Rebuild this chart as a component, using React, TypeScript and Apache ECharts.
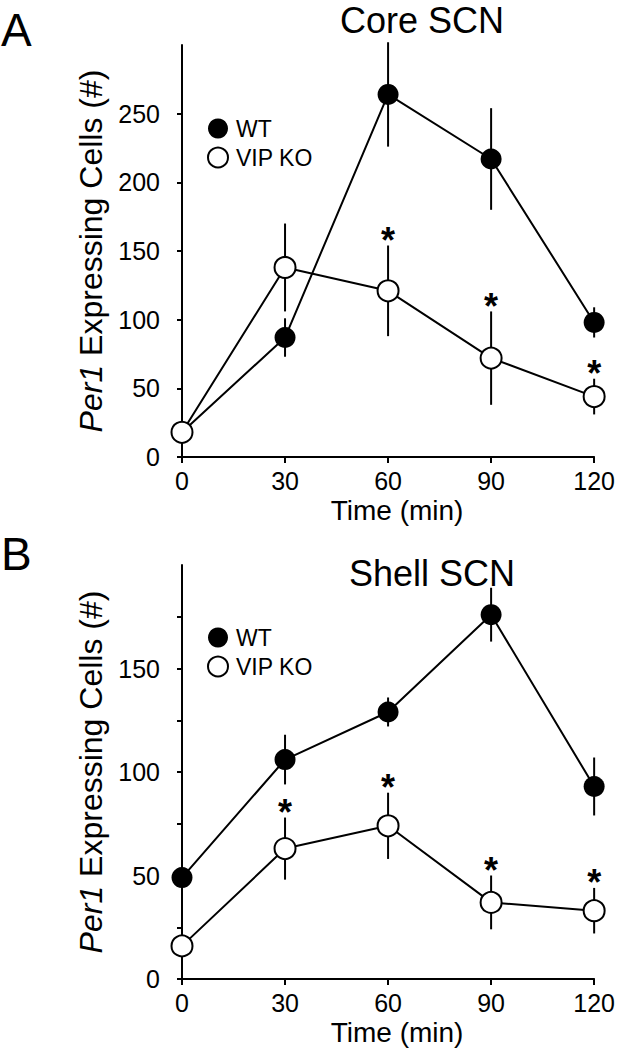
import React, { useEffect, useRef } from "react";
import * as echarts from "echarts";

const times = [0, 30, 60, 90, 120];

const coreWT = [18, 87, 264, 217, 98];
const coreWTErr = [11, 14, 38, 37, 11];
const coreKO = [18, 138, 121, 72, 44];
const coreKOErr = [10, 32, 33, 34, 13];
const coreSig = [false, false, true, true, true];

const shellWT = [49, 106, 129, 176, 93];
const shellWTErr = [11, 12, 7, 13, 14];
const shellKO = [16, 63, 74, 37, 33];
const shellKOErr = [9, 15, 16, 13, 11];
const shellSig = [false, true, true, true, true];

const coreYTicks = [0, 50, 100, 150, 200, 250];
const coreYLabels = [0, 50, 100, 150, 200, 250];
const shellYTicks = [0, 25, 50, 75, 100, 125, 150, 175];
const shellYLabels = [0, 50, 100, 150];

const FONT = '"Liberation Sans", Arial, sans-serif';

function errData(vals: number[], errs: number[]) {
  return times.map((t, i) => [t, vals[i], errs[i]]);
}
function starData(vals: number[], errs: number[], sig: boolean[]) {
  return times
    .map((t, i) => (sig[i] ? [t, vals[i] + errs[i]] : null))
    .filter((d) => d !== null);
}

const errRender = (params: any, api: any) => {
  const x = api.value(0);
  const v = api.value(1);
  const e = api.value(2);
  const p1 = api.coord([x, v + e]);
  const p2 = api.coord([x, v - e]);
  return {
    type: "line",
    shape: { x1: p1[0], y1: p1[1], x2: p2[0], y2: p2[1] },
    style: { stroke: "#000", lineWidth: 2 },
  };
};

const starRender = (params: any, api: any) => {
  const p = api.coord([api.value(0), api.value(1)]);
  return {
    type: "text",
    x: p[0],
    y: p[1] - 5,
    style: {
      text: "*",
      fill: "#000",
      font: `bold 36px ${FONT}`,
      align: "center",
      verticalAlign: "middle",
    },
  };
};

export default function App() {
  const ref = useRef<HTMLDivElement>(null);
  useEffect(() => {
    if (!ref.current) return;
    const chart = echarts.init(ref.current, null, { renderer: "svg" });

    const xAxisBase = (gridIndex: number) => ({
      type: "value",
      gridIndex,
      min: 0,
      max: 120,
      interval: 30,
      axisLine: { show: true, onZero: false, lineStyle: { color: "#000", width: 2 } },
      axisTick: { show: true, length: 6, lineStyle: { color: "#000", width: 2 } },
      axisLabel: {
        margin: 11,
        fontSize: 25,
        fontFamily: FONT,
        color: "#000",
      },
      splitLine: { show: false },
      name: "Time (min)",
      nameLocation: "middle",
      nameGap: 39,
      nameTextStyle: {
        fontSize: 28,
        fontFamily: FONT,
        color: "#000",
        padding: [0, 0, 0, 18],
      },
    });

    const yAxisBase = (gridIndex: number, max: number, ticks: number[], labels: number[]) => ({
      type: "value",
      gridIndex,
      min: 0,
      max,
      offset: 12,
      axisLine: { show: true, lineStyle: { color: "#000", width: 2 } },
      axisTick: {
        show: true,
        length: 5,
        customValues: ticks,
        lineStyle: { color: "#000", width: 2 },
      },
      axisLabel: {
        margin: 10,
        fontSize: 25,
        fontFamily: FONT,
        color: "#000",
        customValues: labels,
      },
      splitLine: { show: false },
      name: "{it|Per1} Expressing Cells (#)",
      nameLocation: "middle",
      nameGap: 62,
      nameTextStyle: {
        fontSize: 32,
        fontFamily: FONT,
        color: "#000",
        rich: {
          it: { fontSize: 32, fontFamily: FONT, fontStyle: "italic", color: "#000" },
        },
      },
    });

    const lineSeries = (name: string, idx: number, vals: number[], open: boolean) => ({
      type: "line",
      name,
      xAxisIndex: idx,
      yAxisIndex: idx,
      data: times.map((t, i) => [t, vals[i]]),
      symbol: "circle",
      symbolSize: 21,
      z: open ? 4 : 3,
      lineStyle: { color: "#000", width: 2 },
      itemStyle: open
        ? { color: "#fff", borderColor: "#000", borderWidth: 2 }
        : { color: "#000", borderColor: "#000", borderWidth: 0 },
      emphasis: { disabled: true },
    });

    const errSeries = (idx: number, vals: number[], errs: number[]) => ({
      type: "custom",
      xAxisIndex: idx,
      yAxisIndex: idx,
      data: errData(vals, errs),
      renderItem: errRender,
      encode: { x: 0, y: 1 },
      z: 2,
      silent: true,
    });

    const starSeries = (idx: number, vals: number[], errs: number[], sig: boolean[]) => ({
      type: "custom",
      xAxisIndex: idx,
      yAxisIndex: idx,
      data: starData(vals, errs, sig),
      renderItem: starRender,
      encode: { x: 0, y: 1 },
      z: 5,
      silent: true,
    });

    const legend = (top: number) => ({
      orient: "vertical",
      left: 202,
      top,
      itemWidth: 20,
      itemHeight: 20,
      itemGap: 6,
      icon: "circle",
      selectedMode: false,
      textStyle: {
        fontSize: 23,
        fontFamily: FONT,
        color: "#000",
        padding: [0, 0, 0, 3],
      },
      data: [
        { name: "WT", itemStyle: { color: "#000", borderWidth: 0 } },
        { name: "VIP KO", itemStyle: { color: "#fff", borderColor: "#000", borderWidth: 2 } },
      ],
    });

    chart.setOption({
      animation: false,
      backgroundColor: "#fff",
      grid: [
        { left: 182, width: 415, top: 45, height: 412 },
        { left: 182, width: 415, top: 565, height: 414 },
      ],
      xAxis: [xAxisBase(0), xAxisBase(1)],
      yAxis: [
        yAxisBase(0, 300, coreYTicks, coreYLabels),
        yAxisBase(1, 200, shellYTicks, shellYLabels),
      ],
      legend: [legend(112), legend(621)],
      graphic: [
        {
          type: "text",
          x: 1,
          y: 30,
          style: { text: "A", font: `46px ${FONT}`, fill: "#000", align: "left", verticalAlign: "middle" },
        },
        {
          type: "text",
          x: 1,
          y: 554,
          style: { text: "B", font: `46px ${FONT}`, fill: "#000", align: "left", verticalAlign: "middle" },
        },
        {
          type: "text",
          x: 422,
          y: 20,
          style: { text: "Core SCN", font: `36px ${FONT}`, fill: "#000", align: "center", verticalAlign: "middle" },
        },
        {
          type: "text",
          x: 432,
          y: 573,
          style: { text: "Shell SCN", font: `36px ${FONT}`, fill: "#000", align: "center", verticalAlign: "middle" },
        },
      ],
      series: [
        errSeries(0, coreWT, coreWTErr),
        errSeries(0, coreKO, coreKOErr),
        lineSeries("WT", 0, coreWT, false),
        lineSeries("VIP KO", 0, coreKO, true),
        starSeries(0, coreKO, coreKOErr, coreSig),
        errSeries(1, shellWT, shellWTErr),
        errSeries(1, shellKO, shellKOErr),
        lineSeries("WT", 1, shellWT, false),
        lineSeries("VIP KO", 1, shellKO, true),
        starSeries(1, shellKO, shellKOErr, shellSig),
      ],
    });
    return () => chart.dispose();
  }, []);
  return (
    <div
      ref={ref}
      style={{ position: "absolute", left: 0, top: 0, width: 618, height: 1050 }}
    />
  );
}
